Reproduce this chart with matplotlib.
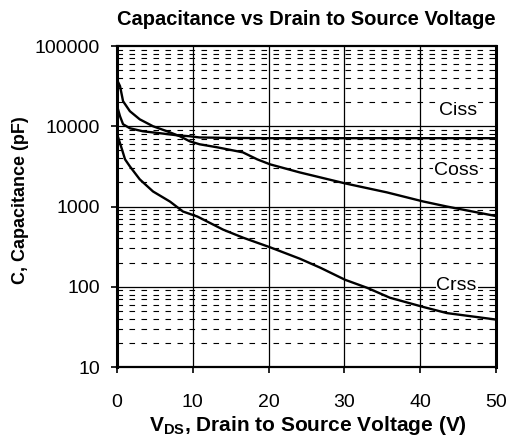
import numpy as np
import matplotlib
matplotlib.use("Agg")
from matplotlib import pyplot as plt

plt.rcParams['font.family'] = ['Liberation Sans', 'DejaVu Sans']
plt.rcParams['mathtext.fontset'] = 'custom'
plt.rcParams['mathtext.rm'] = 'Liberation Sans'
plt.rcParams['mathtext.bf'] = 'Liberation Sans:bold'

# data
v_ciss = [0, 0.4, 0.8, 1.7, 3.4, 5.7, 7.9, 9.6, 10.9, 15, 20, 30, 40, 50]
c_ciss = [18000, 13300, 10600, 9440, 8660, 8180, 7720, 7500, 7250, 7150, 7100, 7100, 7100, 7100]

v_coss = [0, 0.4, 0.8, 1.7, 3.0, 4.75, 6.6, 8.3, 9.6, 10.9, 13.2, 16.6, 18.5, 20.2,
          24.1, 30.1, 35.6, 40.4, 43.5, 50]
c_coss = [38000, 31600, 20500, 15400, 12200, 10000, 8660, 7500, 6490, 5960, 5470, 4730, 3870, 3350,
          2660, 1940, 1500, 1155, 1000, 760]

v_crss = [0, 0.1, 0.66, 1.06, 1.7, 3.0, 4.75, 7.0, 8.7, 10.6, 14, 16.6, 20.2, 24.1,
          26.8, 30.1, 33, 36, 40.4, 43.5, 50]
c_crss = [9000, 7500, 5140, 3870, 3160, 2180, 1540, 1150, 866, 750, 515, 410, 310, 224,
          173, 122, 97, 73, 56, 47, 39]

curve_names = ['Ciss', 'Coss', 'Crss']
label_pos = [(45, 15800), (44.8, 2800), (44.8, 103)]

x_ticks = [0, 10, 20, 30, 40, 50]
y_ticks = [10, 100, 1000, 10000, 100000]
y_ticklabels = ['10', '100', '1000', '10000', '100000']

fig = plt.figure(figsize=(5.08, 4.42), dpi=100)
ax = fig.add_axes([117/508, 1 - 367/442, (496-117)/508, (367-46)/442])

ax.set_yscale('log')
ax.set_xlim(0, 50)
ax.set_ylim(10, 100000)

# minor grid dashed, major solid
minor = [m * 10**d for d in range(1, 5) for m in range(2, 10)]
for y in minor:
    ax.axhline(y, color='black', lw=0.8, linestyle=(0, (5, 5.8)), zorder=1)
for y in y_ticks[1:-1]:
    ax.axhline(y, color='black', lw=0.9, zorder=1)
for x in x_ticks[1:-1]:
    ax.axvline(x, color='black', lw=0.9, zorder=1)

for v, c in [(v_ciss, c_ciss), (v_coss, c_coss), (v_crss, c_crss)]:
    ax.plot(v, c, color='black', lw=1.7, zorder=3)

for name, (x, y) in zip(curve_names, label_pos):
    ax.text(x, y, name, fontsize=14, ha='center', va='center', zorder=4,
            bbox=dict(facecolor='white', edgecolor='none', pad=0.5))

ax.set_xticks(x_ticks)
ax.set_yticks(y_ticks)
ax.set_yticklabels(y_ticklabels)
ax.yaxis.set_minor_locator(matplotlib.ticker.NullLocator())
ax.tick_params(axis='both', direction='out', length=4.3, width=1.2, labelsize=14, color='black')
ax.tick_params(axis='x', pad=15)
ax.tick_params(axis='y', pad=8)

for s in ['left', 'right']:
    ax.spines[s].set_linewidth(2.2)
for s in ['top', 'bottom']:
    ax.spines[s].set_linewidth(1.6)

fig.text(306/508, 1 - 25/442, 'Capacitance vs Drain to Source Voltage', fontsize=14.5,
         fontweight='bold', ha='center', va='baseline')
fig.text(308/508, 1 - 431/442, r'V$_{\mathbf{DS}}$, Drain to Source Voltage (V)', fontsize=15,
         fontweight='bold', ha='center', va='baseline')
fig.text(21/508, 1 - 200/442, 'C, Capacitance (pF)', fontsize=13, fontweight='bold',
         ha='center', va='center', rotation=90)

plt.savefig('out.png', dpi=100)
